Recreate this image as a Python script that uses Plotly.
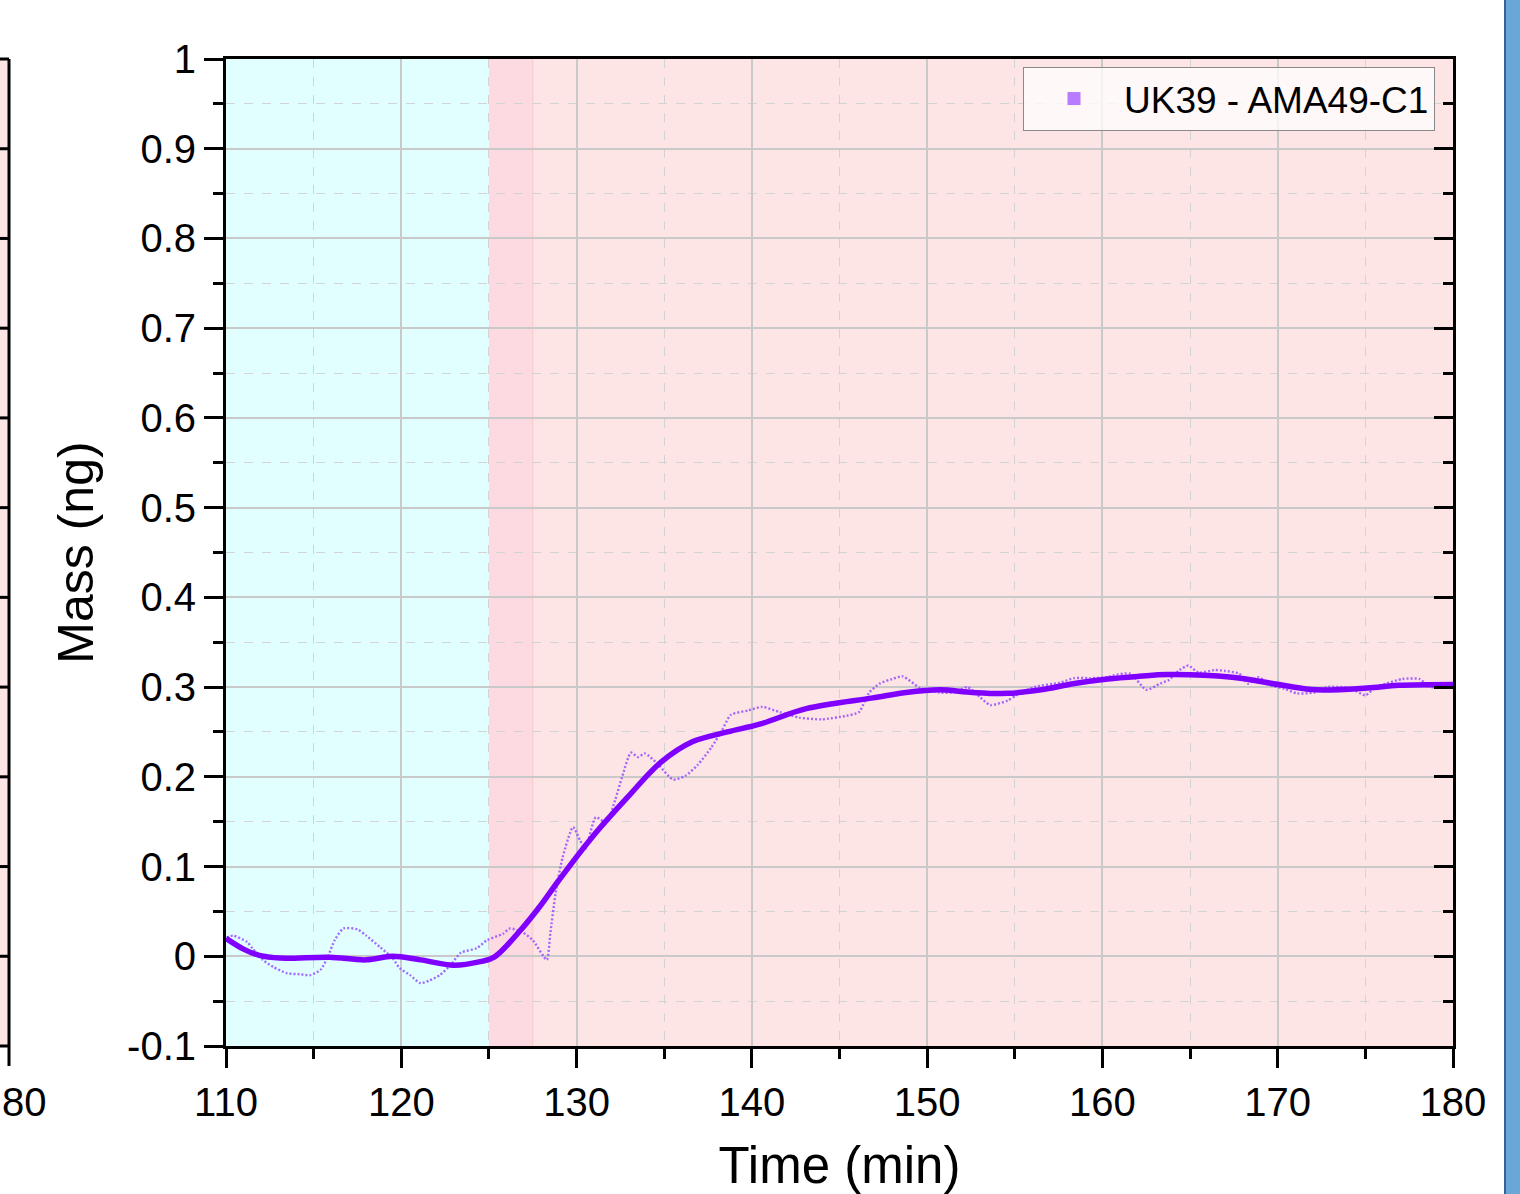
import plotly.graph_objects as go

# ---------------- data ----------------
smooth_time = [110.0, 111.0, 111.9, 113.1, 115.9, 118.0, 119.5, 121.1, 123.0, 124.5, 125.3,
               126.8, 128.0, 129.0, 130.9, 132.9, 134.8, 136.6, 138.6, 140.5, 143.1,
               146.9, 148.8, 150.7, 152.6, 154.6, 156.5, 158.4, 160.3, 162.1, 163.7, 167.4,
               170.3, 172.2, 175.1, 176.9, 180.0]
smooth_mass = [0.020, 0.008, 0.001, -0.002, -0.001, -0.004, 0.000, -0.004, -0.010, -0.006, -0.001,
               0.029, 0.058, 0.085, 0.133, 0.177, 0.216, 0.239, 0.250, 0.259, 0.276,
               0.288, 0.294, 0.297, 0.294, 0.293, 0.297, 0.304, 0.309, 0.312, 0.314, 0.311,
               0.302, 0.297, 0.299, 0.302, 0.303]

raw_time = [110.05, 110.4, 111.2, 111.5, 112.1, 112.7, 113.5, 114.2, 114.8, 115.4, 115.8, 116.2,
            116.7, 117.5, 118.0, 118.8, 119.5, 119.9, 120.5, 121.1, 121.6, 122.2, 122.8, 123.4,
            124.3, 124.9, 125.8, 126.2, 126.9, 127.5, 128.3, 128.5, 128.8, 129.2, 129.8, 130.2,
            130.5, 131.1, 131.7, 132.2, 132.6, 133.1, 133.5, 133.9, 134.6, 135.5, 136.2, 136.9,
            137.7, 138.3, 138.8, 139.8, 140.6, 141.6, 142.7, 144.0, 145.4, 146.1, 146.7, 147.3,
            148.0, 148.6, 149.6, 150.7, 151.5, 152.3, 153.0, 153.6, 154.6, 155.1, 156.1, 157.6,
            158.4, 159.3, 160.3, 160.6, 161.6, 162.5, 163.3, 163.8, 164.4, 164.9, 165.5, 166.4,
            167.0, 167.8, 168.3, 168.9, 169.6, 170.4, 171.1, 172.1, 172.8, 174.1, 175.0, 175.6,
            176.2, 177.1, 178.1, 178.7, 180.0]
raw_mass = [0.021, 0.023, 0.016, 0.009, -0.004, -0.012, -0.019, -0.020, -0.021, -0.015, -0.001, 0.018,
            0.031, 0.030, 0.023, 0.010, -0.002, -0.013, -0.021, -0.030, -0.027, -0.021, -0.010, 0.004,
            0.009, 0.018, 0.025, 0.031, 0.027, 0.018, -0.004, 0.025, 0.070, 0.110, 0.144, 0.129,
            0.120, 0.155, 0.149, 0.174, 0.200, 0.227, 0.222, 0.226, 0.215, 0.197, 0.201, 0.213,
            0.233, 0.252, 0.269, 0.274, 0.278, 0.272, 0.266, 0.264, 0.268, 0.272, 0.294, 0.304,
            0.309, 0.312, 0.299, 0.294, 0.294, 0.300, 0.289, 0.280, 0.285, 0.291, 0.300, 0.305,
            0.310, 0.310, 0.311, 0.313, 0.315, 0.297, 0.304, 0.308, 0.319, 0.324, 0.316, 0.319,
            0.318, 0.315, 0.304, 0.311, 0.302, 0.298, 0.293, 0.294, 0.300, 0.299, 0.291, 0.300,
            0.304, 0.309, 0.309, 0.300, 0.303]

series_name = "UK39 - AMA49-C1"
x_ticks = [110, 120, 130, 140, 150, 160, 170, 180]
y_ticks = [-0.1, 0, 0.1, 0.2, 0.3, 0.4, 0.5, 0.6, 0.7, 0.8, 0.9, 1]
y_ticktext = ["-0.1", "0", "0.1", "0.2", "0.3", "0.4", "0.5", "0.6", "0.7", "0.8", "0.9", "1"]
regions = [(110, 125, "#e1ffff"), (125, 127.5, "#fdd9e2"), (127.5, 180, "#fde4e5")]

FONT = "Liberation Sans, Arial, sans-serif"
X_RANGE = [110, 180]
Y_RANGE = [-0.1, 1]

# page geometry (px)
W, H = 1520, 1194
ML, MR, MT, MB = 226, 67, 59, 148


def px_to_paper_x(px):
    return (px - ML) / (W - ML - MR)


def px_to_paper_y(py):
    return (H - MB - py) / (H - MT - MB)


def val_to_paper_y(v):
    return (v - Y_RANGE[0]) / (Y_RANGE[1] - Y_RANGE[0])


fig = go.Figure()

fig.add_trace(go.Scatter(
    x=raw_time, y=raw_mass, mode="lines", showlegend=False,
    line=dict(color="rgba(150,80,255,0.85)", width=2.4, dash="2px,2px", shape="spline", smoothing=0.6),
    hoverinfo="skip"))
fig.add_trace(go.Scatter(
    x=smooth_time, y=smooth_mass, mode="lines", showlegend=False,
    line=dict(color="#7f00ff", width=5.5, shape="spline", smoothing=1.0)))
fig.add_trace(go.Scatter(
    x=[None], y=[None], mode="markers", name=series_name,
    marker=dict(symbol="square", size=13, color="#b77cff")))
# helper trace to activate the right-hand mirrored axis
fig.add_trace(go.Scatter(x=[None], y=[None], yaxis="y2", showlegend=False, hoverinfo="skip"))

shapes = []
for x0, x1, col in regions:
    shapes.append(dict(type="rect", xref="x", yref="y", x0=x0, x1=x1, y0=Y_RANGE[0], y1=Y_RANGE[1],
                       fillcolor=col, line=dict(width=0), layer="below"))
shapes.append(dict(type="line", xref="x", yref="y", x0=127.5, x1=127.5, y0=Y_RANGE[0], y1=Y_RANGE[1],
                   line=dict(color="#f8c6c8", width=1), layer="below"))

# neighbouring chart fragment at the left edge
shapes.append(dict(type="rect", xref="paper", yref="paper", x0=px_to_paper_x(-5), x1=px_to_paper_x(9),
                   y0=0, y1=1, fillcolor="#fde4e5", line=dict(width=0), layer="below"))
shapes.append(dict(type="line", xref="paper", yref="paper", x0=px_to_paper_x(9), x1=px_to_paper_x(9),
                   y0=px_to_paper_y(1066), y1=1, line=dict(color="black", width=3)))
for v in y_ticks:
    shapes.append(dict(type="line", xref="paper", yref="paper", x0=px_to_paper_x(-5), x1=px_to_paper_x(9),
                       y0=val_to_paper_y(v), y1=val_to_paper_y(v), line=dict(color="black", width=3)))
# blue bar at right edge
shapes.append(dict(type="rect", xref="paper", yref="paper", x0=px_to_paper_x(1505), x1=px_to_paper_x(1530),
                   y0=px_to_paper_y(1200), y1=px_to_paper_y(-5), fillcolor="#68a7d6",
                   line=dict(color="#3a5d9c", width=2)))

annotations = [dict(text="80", xref="paper", yref="paper", x=px_to_paper_x(0), y=px_to_paper_y(1078),
                    xanchor="left", yanchor="top", showarrow=False,
                    font=dict(family=FONT, size=40, color="black"))]

axis_font = dict(family=FONT, size=40, color="black")

fig.update_layout(
    width=W, height=H,
    margin=dict(l=ML, r=MR, t=MT, b=MB, pad=0, autoexpand=False),
    paper_bgcolor="white", plot_bgcolor="white",
    shapes=shapes, annotations=annotations,
    font=dict(family=FONT, color="black"),
    xaxis=dict(
        range=X_RANGE, tickvals=x_ticks, ticks="outside", ticklen=19, tickwidth=3, tickcolor="black",
        showline=True, linewidth=3, linecolor="black", mirror=True, zeroline=False,
        showgrid=True, gridcolor="#c9c9c9", gridwidth=1.5,
        minor=dict(dtick=5, tick0=110, ticks="outside", ticklen=10, tickwidth=3, tickcolor="black",
                   showgrid=True, gridcolor="#d3d3d3", gridwidth=1, griddash="dash"),
        tickfont=axis_font,
        title=dict(text="Time (min)", font=dict(family=FONT, size=51, color="black"), standoff=46),
    ),
    yaxis=dict(
        range=Y_RANGE, tickvals=y_ticks, ticktext=y_ticktext, ticks="outside", ticklen=19, tickwidth=3,
        tickcolor="black", showline=True, linewidth=3, linecolor="black", mirror=False, zeroline=False,
        showgrid=True, gridcolor="#c9c9c9", gridwidth=1.5,
        minor=dict(dtick=0.05, tick0=-0.1, ticks="outside", ticklen=10, tickwidth=3, tickcolor="black",
                   showgrid=True, gridcolor="#d3d3d3", gridwidth=1, griddash="dash"),
        tickfont=axis_font,
        title=dict(text="Mass (ng)", font=dict(family=FONT, size=50, color="black"), standoff=18),
    ),
    yaxis2=dict(
        range=Y_RANGE, overlaying="y", side="right", tickvals=y_ticks, showticklabels=False,
        ticks="inside", ticklen=19, tickwidth=3, tickcolor="black",
        showline=True, linewidth=3, linecolor="black", showgrid=False, zeroline=False,
        minor=dict(dtick=0.05, tick0=-0.1, ticks="inside", ticklen=10, tickwidth=3, tickcolor="black",
                   showgrid=False),
    ),
    legend=dict(
        x=px_to_paper_x(1435), y=px_to_paper_y(67), xanchor="right", yanchor="top",
        bgcolor="rgba(255,255,255,0.75)", bordercolor="#8a8a8a", borderwidth=1,
        font=dict(family=FONT, size=37, color="black"), itemwidth=90,
    ),
    showlegend=True,
)

fig.write_html("out.html", config={"displayModeBar": False},
               post_script="document.body.style.margin='0';document.body.style.overflow='hidden';")
